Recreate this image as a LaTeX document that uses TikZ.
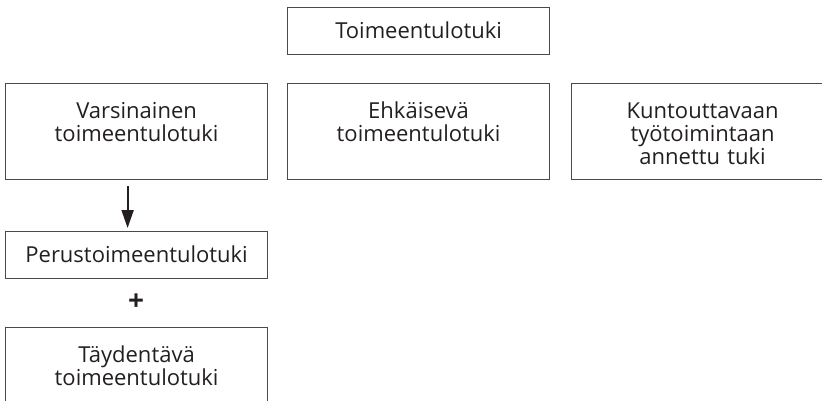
\documentclass[tikz,border=0pt]{standalone}
\usepackage{fontspec}
\setmainfont{Open Sans}
\usepackage{xcolor}
\usetikzlibrary{arrows.meta}

\definecolor{boxgray}{HTML}{4A4A4A}
\definecolor{textgray}{HTML}{231F20}

\tikzset{
  box/.style={draw=boxgray, line width=1.2pt, inner sep=0pt, text width=262pt,
    align=center, anchor=north west, text=textgray,
    font=\fontsize{22}{23}\selectfont},
  tallbox/.style={box, text height=35pt, text depth=61pt},
  flatbox/.style={box, text height=31pt, text depth=16pt},
}

\begin{document}
\begin{tikzpicture}[x=1pt,y=-1pt]
    \useasboundingbox (0,0) rectangle (822,401);
    \clip (0,0) rectangle (822,401);
    \node[flatbox] (tuki) at (287,7) {Toimeentulotuki};
    \node[tallbox] (vars) at (5,83) {Varsinainen\\toimeentulotuki};
    \node[tallbox] (ehk) at (287,83) {Ehkäisevä\\toimeentulotuki};
    \node[tallbox] (kunt) at (571,83) {Kuntouttavaan\\työtoimintaan\\annettu tuki};
    \node[flatbox] (perus) at (5,231) {Perustoimeentulotuki};
    \node[text=textgray, font=\fontsize{28}{28}\selectfont\bfseries] (plus) at (136,302) {+};
    \node[tallbox] (tayd) at (5,327) {Täydentävä\\toimeentulotuki};
    \draw[-{Triangle[width=12pt,length=18pt]}, line width=2pt, textgray]
        ([xshift=-9pt,yshift=-6pt]vars.south) -- ([xshift=-9pt,yshift=3pt]perus.north);
\end{tikzpicture}
\end{document}
